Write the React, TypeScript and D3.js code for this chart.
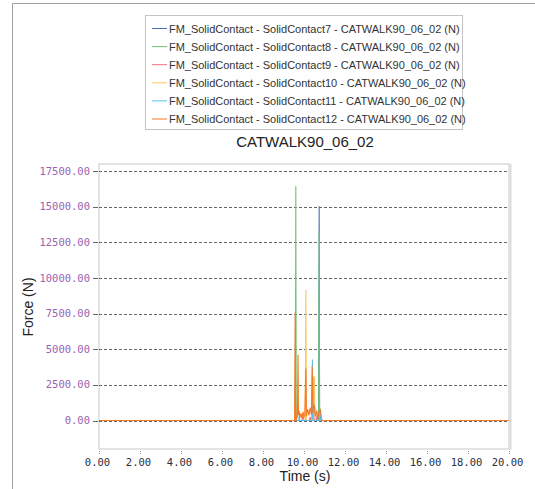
import React from "react";
import * as d3 from "d3";

// Contact force series (time in s, force in N)
const seriesNames = [
  "FM_SolidContact - SolidContact7 - CATWALK90_06_02 (N)",
  "FM_SolidContact - SolidContact8 - CATWALK90_06_02 (N)",
  "FM_SolidContact - SolidContact9 - CATWALK90_06_02 (N)",
  "FM_SolidContact - SolidContact10 - CATWALK90_06_02 (N)",
  "FM_SolidContact - SolidContact11 - CATWALK90_06_02 (N)",
  "FM_SolidContact - SolidContact12 - CATWALK90_06_02 (N)",
];
const seriesColors = ["#4a6fb8", "#6cc46c", "#ef6e7e", "#fcc85c", "#5bbfea", "#f57a22"];

const c7Time = [0, 10.72, 10.74, 10.76, 20];
const c7Force = [0, 0, 15030, 0, 0];

const c8Time = [0, 9.58, 9.6, 9.62, 10.72, 10.74, 10.76, 20];
const c8Force = [0, 0, 16430, 0, 0, 13270, 0, 0];

const c9Time = [0, 9.9, 9.95, 10.0, 10.26, 10.3, 10.34, 10.44, 10.47, 10.5, 10.6, 10.64, 10.68, 20];
const c9Force = [0, 0, 350, 0, 0, 250, 0, 0, 3000, 0, 0, 400, 0, 0];

const c10Time = [0, 10.06, 10.09, 10.12, 10.45, 10.48, 10.51, 10.54, 10.78, 10.8, 10.82, 20];
const c10Force = [0, 0, 9150, 0, 0, 3100, 2900, 0, 0, 900, 0, 0];

const c11Time = [0, 9.75, 9.77, 9.79, 10.38, 10.41, 10.44, 10.78, 10.8, 10.82, 20];
const c11Force = [0, 0, 600, 0, 0, 4280, 0, 0, 800, 0, 0];

const c12Time = [0, 9.54, 9.57, 9.59, 9.62, 9.68, 9.71, 9.73, 9.76, 9.8, 9.85, 9.9, 9.95, 10.0, 10.04, 10.09, 10.12, 10.18, 10.24, 10.3, 10.36, 10.4, 10.44, 10.5, 10.56, 10.62, 10.68, 10.72, 10.78, 10.84, 10.88, 20];
const c12Force = [0, 0, 7580, 1600, 0, 300, 4630, 400, 700, 200, 500, 150, 600, 250, 400, 3650, 300, 800, 350, 900, 400, 3800, 500, 1100, 300, 700, 200, 500, 800, 300, 0, 0];

const seriesTimes = [c7Time, c8Time, c9Time, c10Time, c11Time, c12Time];
const seriesForces = [c7Force, c8Force, c9Force, c10Force, c11Force, c12Force];

const yTicks = [0, 2500, 5000, 7500, 10000, 12500, 15000, 17500];
const xTicks = [0, 2, 4, 6, 8, 10, 12, 14, 16, 18, 20];

const chartTitle = "CATWALK90_06_02";

export default function App() {
  const W = 535;
  const H = 489;
  const left = 99, right = 509, top = 164, bottom = 449;

  const x = d3.scaleLinear().domain([0, 20]).range([left, right]);
  const y = d3.scaleLinear().domain([-2000, 18000]).range([bottom, top]);
  const fmt = d3.format(".2f");

  const line = d3
    .line<[number, number]>()
    .x((d) => x(d[0]))
    .y((d) => y(d[1]));

  const sans = "'Liberation Sans', Arial, sans-serif";
  const mono = "'DejaVu Sans Mono', monospace";

  const legendX = 145, legendY = 15, legendW = 317, legendH = 114;

  return (
    <svg
      width={W}
      height={H}
      style={{ position: "absolute", left: 0, top: 0, background: "#fff" }}
    >
      {/* outer panel frame */}
      <line x1={12.5} y1={3.5} x2={W} y2={3.5} stroke="#a0a0a0" />
      <line x1={12.5} y1={3.5} x2={12.5} y2={H} stroke="#a0a0a0" />

      {/* legend */}
      <rect x={legendX + 0.5} y={legendY + 0.5} width={legendW} height={legendH} fill="#fff" stroke="#c4c4c4" />
      {seriesNames.map((name, i) => {
        const ly = 28.5 + i * 18.1;
        return (
          <g key={name}>
            <line x1={152} x2={167} y1={ly} y2={ly} stroke={seriesColors[i]} strokeWidth={1} />
            <text x={169} y={ly + 4} fontFamily={sans} fontSize={11} fill="#333" letterSpacing={-0.02}>
              {name}
            </text>
          </g>
        );
      })}

      {/* title */}
      <text x={305} y={147} textAnchor="middle" fontFamily={sans} fontSize={15} fill="#222">
        {chartTitle}
      </text>

      {/* plot frame */}
      <rect x={left} y={top} width={right - left} height={bottom - top} fill="#fff" stroke="#c8c8c8" />
      <line x1={right + 1.5} x2={right + 1.5} y1={top} y2={bottom + 1} stroke="#dcdcdc" strokeWidth={2} />

      {/* y grid, ticks, labels */}
      {yTicks.map((t) => (
        <g key={t}>
          <line x1={93} x2={98} y1={Math.round(y(t)) + 0.5} y2={Math.round(y(t)) + 0.5} stroke="#666" />
          <line
            x1={left}
            x2={right}
            y1={Math.round(y(t)) + 0.5}
            y2={Math.round(y(t)) + 0.5}
            stroke="#666"
            strokeDasharray="3,2"
          />
          <text x={90} y={y(t) + 3.5} textAnchor="end" fontFamily={mono} fontSize={10.5} fill="#9a62b0">
            {fmt(t)}
          </text>
        </g>
      ))}

      {/* x ticks and labels */}
      {xTicks.map((t) => (
        <g key={t}>
          <line x1={Math.round(x(t)) + 0.5} x2={Math.round(x(t)) + 0.5} y1={451} y2={455} stroke="#999" strokeDasharray="1,1" />
          <text x={x(t) - 1.5} y={466} textAnchor="middle" fontFamily={mono} fontSize={10.5} fill="#2a3040">
            {fmt(t)}
          </text>
        </g>
      ))}

      {/* axis titles */}
      <text x={305} y={481} textAnchor="middle" fontFamily={sans} fontSize={14} fill="#222">
        Time (s)
      </text>
      <text
        transform={`translate(33, 307) rotate(-90)`}
        textAnchor="middle"
        fontFamily={sans}
        fontSize={14}
        fill="#222"
      >
        Force (N)
      </text>

      {/* series */}
      <g>
        {seriesTimes.map((times, i) => {
          const pts = times.map((t, k) => [t, seriesForces[i][k]] as [number, number]);
          return (
            <path key={i} d={line(pts) || ""} fill="none" stroke={seriesColors[i]} strokeWidth={1.1} />
          );
        })}
      </g>
    </svg>
  );
}
